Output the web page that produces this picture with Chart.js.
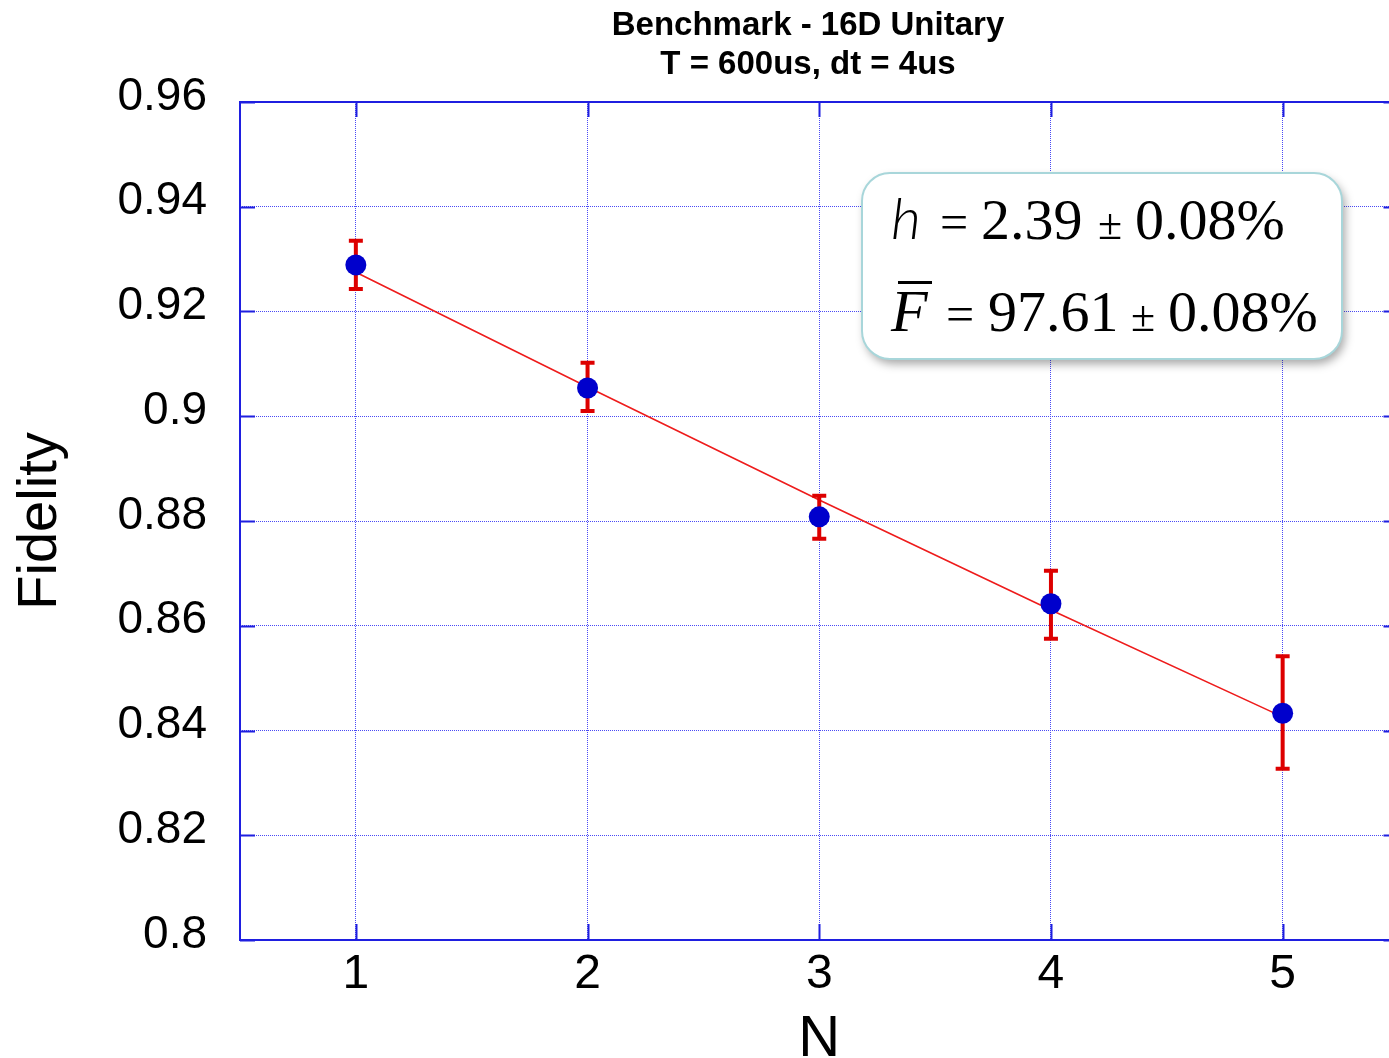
<!DOCTYPE html>
<html>
<head>
<meta charset="utf-8">
<script src="https://cdn.jsdelivr.net/npm/chart.js@4.4.1/dist/chart.umd.min.js"></script>
<style>
  html, body { margin: 0; padding: 0; background: #fff; overflow: hidden; }
  canvas { display: block; }
</style>
</head>
<body>
<canvas id="fidelityChart" width="1409" height="1100"></canvas>
<script>
// data
const nValues = [1, 2, 3, 4, 5];
const fidelity = [0.9289, 0.9054, 0.8808, 0.8642, 0.8433];
const errLow = [0.9243, 0.9010, 0.8766, 0.8575, 0.8327];
const errHigh = [0.9335, 0.9102, 0.8848, 0.8705, 0.8542];
const fitValues = [0.9275, 0.9056, 0.8840, 0.8630, 0.8426];
const xTicks = [1, 2, 3, 4, 5];
const yTicks = [0.8, 0.82, 0.84, 0.86, 0.88, 0.9, 0.92, 0.94, 0.96];
const yTickLabels = ['0.8', '0.82', '0.84', '0.86', '0.88', '0.9', '0.92', '0.94', '0.96'];
const titleLines = ['Benchmark - 16D Unitary', 'T = 600us, dt = 4us'];

const axisBlue = '#1f1fe0';
const gridBlue = '#4a4af5';
const sans = "'Liberation Sans', Arial, Helvetica, sans-serif";
const serif = "'Liberation Serif', 'Times New Roman', serif";

const toPoints = (xs, ys) => xs.map((x, i) => ({ x: x, y: ys[i] }));

// frame + inward tick marks, drawn before the datasets
const framePlugin = {
    id: 'frame',
    beforeDatasetsDraw(chart) {
        const { ctx, chartArea: a, scales } = chart;
        ctx.save();
        ctx.strokeStyle = axisBlue;
        ctx.lineWidth = 2;
        ctx.strokeRect(a.left, a.top, a.right - a.left, a.bottom - a.top);
        ctx.beginPath();
        xTicks.forEach(v => {
            const px = Math.round(scales.x.getPixelForValue(v)) + 0.5;
            ctx.moveTo(px, a.bottom); ctx.lineTo(px, a.bottom - 16);
            ctx.moveTo(px, a.top); ctx.lineTo(px, a.top + 15);
        });
        yTicks.forEach(v => {
            const py = Math.round(scales.y.getPixelForValue(v)) + 0.5;
            ctx.moveTo(a.left, py); ctx.lineTo(a.left + 15, py);
            ctx.moveTo(a.right, py); ctx.lineTo(a.right - 15, py);
        });
        ctx.stroke();
        ctx.restore();
    }
};

// error bars after the fit line, before the points
const errorBarPlugin = {
    id: 'errorBars',
    afterDatasetDraw(chart, args) {
        if (args.index !== 1) return;
        const { ctx, scales } = chart;
        ctx.save();
        ctx.strokeStyle = '#dd0000';
        ctx.lineWidth = 4;
        nValues.forEach((n, i) => {
            const x = scales.x.getPixelForValue(n);
            const yl = scales.y.getPixelForValue(errLow[i]);
            const yh = scales.y.getPixelForValue(errHigh[i]);
            ctx.beginPath();
            ctx.moveTo(x, yl); ctx.lineTo(x, yh);
            ctx.moveTo(x - 7, yl); ctx.lineTo(x + 7, yl);
            ctx.moveTo(x - 7, yh); ctx.lineTo(x + 7, yh);
            ctx.stroke();
        });
        ctx.restore();
    }
};

// title and fit result box
const textPlugin = {
    id: 'texts',
    afterDraw(chart) {
        const { ctx } = chart;
        ctx.save();
        ctx.fillStyle = '#000';
        ctx.textAlign = 'center';
        ctx.textBaseline = 'alphabetic';
        ctx.font = 'bold 33px ' + sans;
        ctx.fillText(titleLines[0], 808, 35);
        ctx.fillText(titleLines[1], 808, 74);

        // box
        ctx.save();
        ctx.shadowColor = 'rgba(0,0,0,0.35)';
        ctx.shadowBlur = 10;
        ctx.shadowOffsetX = 3;
        ctx.shadowOffsetY = 5;
        ctx.fillStyle = '#fff';
        ctx.beginPath();
        ctx.roundRect(862, 173, 480, 186, 28);
        ctx.fill();
        ctx.restore();
        ctx.strokeStyle = '#a8d6da';
        ctx.lineWidth = 2;
        ctx.beginPath();
        ctx.roundRect(862, 173, 480, 186, 28);
        ctx.stroke();

        ctx.textAlign = 'left';
        ctx.fillStyle = '#000';
        // line 1
        ctx.font = 'italic 300 58px Lato, ' + sans;
        ctx.fillText('h', 891, 239);
        ctx.font = '50px ' + serif;
        ctx.fillText('=', 940, 239);
        ctx.font = '58px ' + serif;
        ctx.fillText('2.39', 981, 239);
        ctx.font = '44px ' + serif;
        ctx.fillText('±', 1098, 239);
        ctx.font = '58px ' + serif;
        ctx.fillText('0.08%', 1135, 239);
        // line 2
        ctx.font = 'italic 60px ' + serif;
        ctx.fillText('F', 891, 331);
        ctx.fillRect(898, 281, 34, 3);
        ctx.font = '50px ' + serif;
        ctx.fillText('=', 946, 331);
        ctx.font = '58px ' + serif;
        ctx.fillText('97.61', 988, 331);
        ctx.font = '44px ' + serif;
        ctx.fillText('±', 1131, 331);
        ctx.font = '58px ' + serif;
        ctx.fillText('0.08%', 1168, 331);
        ctx.restore();
    }
};

new Chart(document.getElementById('fidelityChart').getContext('2d'), {
    type: 'scatter',
    data: {
        datasets: [{
            label: 'Fidelity',
            data: toPoints(nValues, fidelity),
            pointRadius: 10.5,
            pointHoverRadius: 10.5,
            pointBackgroundColor: '#0000cc',
            pointBorderColor: '#0000cc',
            pointBorderWidth: 0
        }, {
            label: 'Fit',
            data: toPoints(nValues, fitValues),
            showLine: true,
            borderColor: '#ee1c1c',
            borderWidth: 1.6,
            pointRadius: 0,
            fill: false,
            tension: 0
        }]
    },
    options: {
        responsive: false,
        animation: false,
        layout: { padding: { top: 102, right: 0, left: 0, bottom: 0 } },
        plugins: {
            legend: { display: false },
            tooltip: { enabled: false }
        },
        scales: {
            x: {
                type: 'linear',
                min: 0.5,
                max: 5.5,
                afterBuildTicks: s => { s.ticks = xTicks.map(v => ({ value: v })); },
                afterFit: s => { s.height = 160; s.paddingLeft = 0; s.paddingRight = 0; },
                grid: { color: gridBlue, lineWidth: 1, drawTicks: false },
                border: { display: false, dash: [1, 1] },
                ticks: {
                    color: '#000',
                    padding: 6,
                    font: { family: sans, size: 48 }
                },
                title: {
                    display: true,
                    text: 'N',
                    color: '#000',
                    font: { family: sans, size: 58 },
                    padding: { top: 0, bottom: 25 }
                }
            },
            y: {
                min: 0.8,
                max: 0.96,
                afterBuildTicks: s => { s.ticks = yTicks.map(v => ({ value: v })); },
                afterFit: s => { s.width = 240; s.paddingTop = 0; s.paddingBottom = 0; },
                grid: { color: gridBlue, lineWidth: 1, drawTicks: false },
                border: { display: false, dash: [1, 1] },
                ticks: {
                    color: '#000',
                    padding: 33,
                    labelOffset: -5,
                    font: { family: sans, size: 46 },
                    callback: (value, index) => yTickLabels[index]
                },
                title: {
                    display: true,
                    text: 'Fidelity',
                    color: '#000',
                    font: { family: sans, size: 56 },
                    padding: { top: 7, bottom: 0 }
                }
            }
        }
    },
    plugins: [framePlugin, errorBarPlugin, textPlugin]
});
</script>
</body>
</html>
